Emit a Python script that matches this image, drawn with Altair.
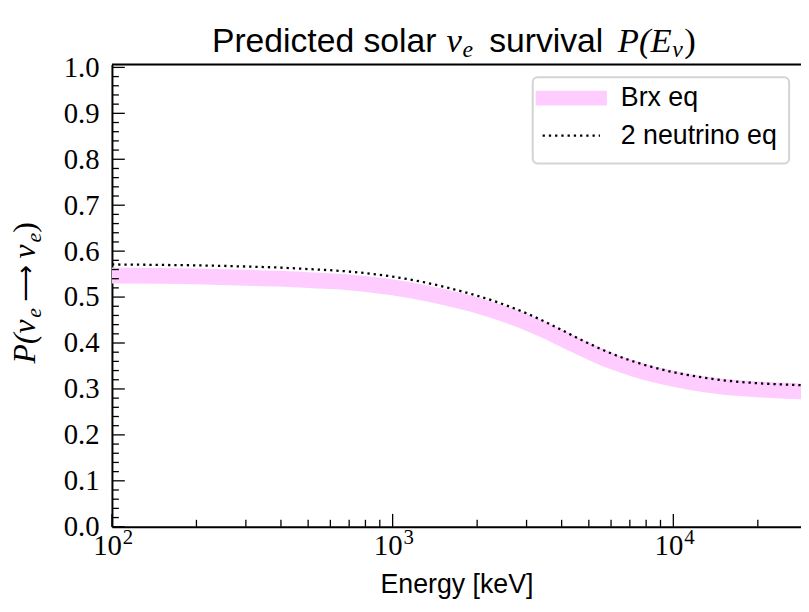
import altair as alt
import pandas as pd

# ---------------- data ----------------
energy_kev = [100, 150, 200, 300, 400, 500, 700, 1000, 1300, 1600, 2000, 2500, 3000,
              3500, 4000, 4500, 5000, 6000, 7000, 8000, 10000, 12000, 15000, 20000,
              25000, 30000]
p_brx = [0.547, 0.546, 0.545, 0.542, 0.540, 0.537, 0.532, 0.521, 0.509, 0.497, 0.482,
         0.463, 0.445, 0.427, 0.410, 0.395, 0.382, 0.361, 0.347, 0.336, 0.322, 0.313,
         0.305, 0.299, 0.296, 0.294]
p_2nu = [0.571, 0.570, 0.569, 0.5665, 0.564, 0.561, 0.5555, 0.5445, 0.532, 0.519, 0.503,
         0.4835, 0.4645, 0.446, 0.4285, 0.4125, 0.399, 0.3775, 0.3625, 0.3515, 0.3365,
         0.3275, 0.319, 0.3125, 0.3095, 0.3075]
series_names = ["Brx eq", "2 neutrino eq"]

x_major = [100, 1000, 10000]
x_label_base = ["10", "10", "10"]
x_label_exp = ["2", "3", "4"]
x_minor = [200, 300, 400, 500, 600, 700, 800, 900,
           2000, 3000, 4000, 5000, 6000, 7000, 8000, 9000, 20000]
y_major = [0.0, 0.1, 0.2, 0.3, 0.4, 0.5, 0.6, 0.7, 0.8, 0.9, 1.0]
y_minor = [0.02, 0.04, 0.06, 0.08, 0.12, 0.14, 0.16, 0.18, 0.22, 0.24, 0.26, 0.28,
           0.32, 0.34, 0.36, 0.38, 0.42, 0.44, 0.46, 0.48, 0.52, 0.54, 0.56, 0.58,
           0.62, 0.64, 0.66, 0.68, 0.72, 0.74, 0.76, 0.78, 0.82, 0.84, 0.86, 0.88,
           0.92, 0.94, 0.96, 0.98]

W, H = 696, 467
SANS = "Liberation Sans"
SERIF = "Liberation Serif"
PINK = "#ffccff"

df_brx = pd.DataFrame({"energy": energy_kev, "p": p_brx})
df_2nu = pd.DataFrame({"energy": energy_kev, "p": p_2nu})
df_xlab = pd.DataFrame({"energy": x_major, "base": x_label_base, "exp": x_label_exp})

xscale = alt.Scale(type="log", domain=[100, 28500], nice=False)
yscale = alt.Scale(domain=[0, 1.0065], nice=False, zero=False)

xaxis = alt.Axis(values=x_major, labels=False, tickSize=0, grid=False,
                 domain=True, domainColor="black", domainWidth=2,
                 title="Energy [keV]", titleFont=SANS, titleFontSize=27,
                 titleFontWeight="normal", titleColor="black", titlePadding=45)
yaxis = alt.Axis(values=y_major, format=".1f", tickSize=0, grid=False,
                 domain=True, domainColor="black", domainWidth=2,
                 labelFont=SERIF, labelFontSize=29, labelColor="black", labelPadding=13,
                 labelFlush=False, labelOverlap=False, title=None)

X = lambda f: alt.X(f, scale=xscale, axis=xaxis)
Y = lambda f: alt.Y(f, scale=yscale, axis=yaxis)

brx = alt.Chart(df_brx).mark_line(
    color=PINK, strokeWidth=16, clip=True, interpolate="monotone", strokeCap="butt"
).encode(x=X("energy:Q"), y=Y("p:Q"))

nu2 = alt.Chart(df_2nu).mark_line(
    color="black", strokeWidth=2.3, strokeDash=[2.3, 4.0], clip=True,
    interpolate="monotone", strokeCap="butt"
).encode(x=X("energy:Q"), y=Y("p:Q"))

# inward ticks (matplotlib style)
def xticks(vals, length):
    return alt.Chart(pd.DataFrame({"energy": vals})).mark_rule(
        color="black", strokeWidth=1.3).encode(
        x=X("energy:Q"), y=alt.value(H), y2=alt.value(H - length))

def yticks(vals, length):
    return alt.Chart(pd.DataFrame({"p": vals})).mark_rule(
        color="black", strokeWidth=1.3).encode(
        y=Y("p:Q"), x=alt.value(0), x2=alt.value(length))

# x tick labels 10^n, drawn at the tick positions through the x scale
xlab_base = alt.Chart(df_xlab).mark_text(
    font=SERIF, fontSize=29, align="right", baseline="alphabetic", dx=10, color="black"
).encode(x=X("energy:Q"), y=alt.value(H + 29), text="base:N")
xlab_exp = alt.Chart(df_xlab).mark_text(
    font=SERIF, fontSize=21, align="left", baseline="alphabetic", dx=11, color="black"
).encode(x=X("energy:Q"), y=alt.value(H + 17), text="exp:N")

one = pd.DataFrame({"a": [0]})
top_spine = alt.Chart(one).mark_rule(color="black", strokeWidth=2).encode(
    x=alt.value(0), x2=alt.value(W), y=alt.value(0))

# legend (drawn by hand, matplotlib style)
leg_box = alt.Chart(one).mark_rect(
    fill="white", stroke="#d3d3d3", strokeWidth=2, cornerRadius=5).encode(
    x=alt.value(425), x2=alt.value(684), y=alt.value(13), y2=alt.value(100))
leg_pink = alt.Chart(one).mark_rule(color=PINK, strokeWidth=15, strokeCap="butt").encode(
    x=alt.value(428), x2=alt.value(500), y=alt.value(34))
leg_dot = alt.Chart(one).mark_rule(color="black", strokeWidth=2.3, strokeDash=[2.3, 4.0],
                                   strokeCap="butt").encode(
    x=alt.value(435), x2=alt.value(493), y=alt.value(72))


def txt(s, x, y, font, size, style="normal", align="left", baseline="middle", angle=0):
    return alt.Chart(pd.DataFrame({"t": [s]})).mark_text(
        font=font, fontSize=size, fontStyle=style, align=align, baseline=baseline,
        angle=angle, color="black").encode(text="t:N", x=alt.value(x), y=alt.value(y))


leg_t1 = txt(series_names[0], 514, 34, SANS, 27)
leg_t2 = txt(series_names[1], 514, 72, SANS, 27)

# title: "Predicted solar ν_e survival P(E_ν)"
TB = -13
title_parts = [
    txt("Predicted solar", 101, TB, SANS, 34, baseline="alphabetic"),
    txt("ν", 338, TB, SERIF, 35, "italic", baseline="alphabetic"),
    txt("e", 354, TB + 6, SERIF, 24, "italic", baseline="alphabetic"),
    txt("survival", 381, TB, SANS, 34, baseline="alphabetic"),
    txt("P(E", 511, TB, SERIF, 35, "italic", baseline="alphabetic"),
    txt("ν", 566, TB + 6, SERIF, 24, "italic", baseline="alphabetic"),
    txt(")", 578, TB, SERIF, 35, baseline="alphabetic"),
]

# y-axis title: "P(ν_e → ν_e)", rotated, composed of pieces
YB = -78
ytitle_parts = [
    txt("P(ν", YB, 302, SERIF, 32, "italic", baseline="alphabetic", angle=270),
    txt("e", YB + 6, 256, SERIF, 22, "italic", baseline="alphabetic", angle=270),
    txt("⟶", YB - 1, 240, "DejaVu Sans", 26, baseline="alphabetic", angle=270),
    txt("ν", YB, 196, SERIF, 32, "italic", baseline="alphabetic", angle=270),
    txt("e", YB + 6, 180, SERIF, 22, "italic", baseline="alphabetic", angle=270),
    txt(")", YB, 170, SERIF, 32, baseline="alphabetic", angle=270),
]

chart = alt.layer(
    brx, nu2,
    xticks(x_major, 13), xticks(x_minor, 7),
    yticks(y_major, 13), yticks(y_minor, 7),
    xlab_base, xlab_exp,
    top_spine,
    leg_box, leg_pink, leg_dot, leg_t1, leg_t2,
    *title_parts, *ytitle_parts,
).properties(
    width=W, height=H,
    autosize=alt.AutoSizeParams(type="none"),
    padding={"left": 105, "top": 54, "right": 0, "bottom": 70},
).configure_view(stroke=None).configure(background="white")

chart.save("out.html", embed_options={"renderer": "svg", "actions": False})
